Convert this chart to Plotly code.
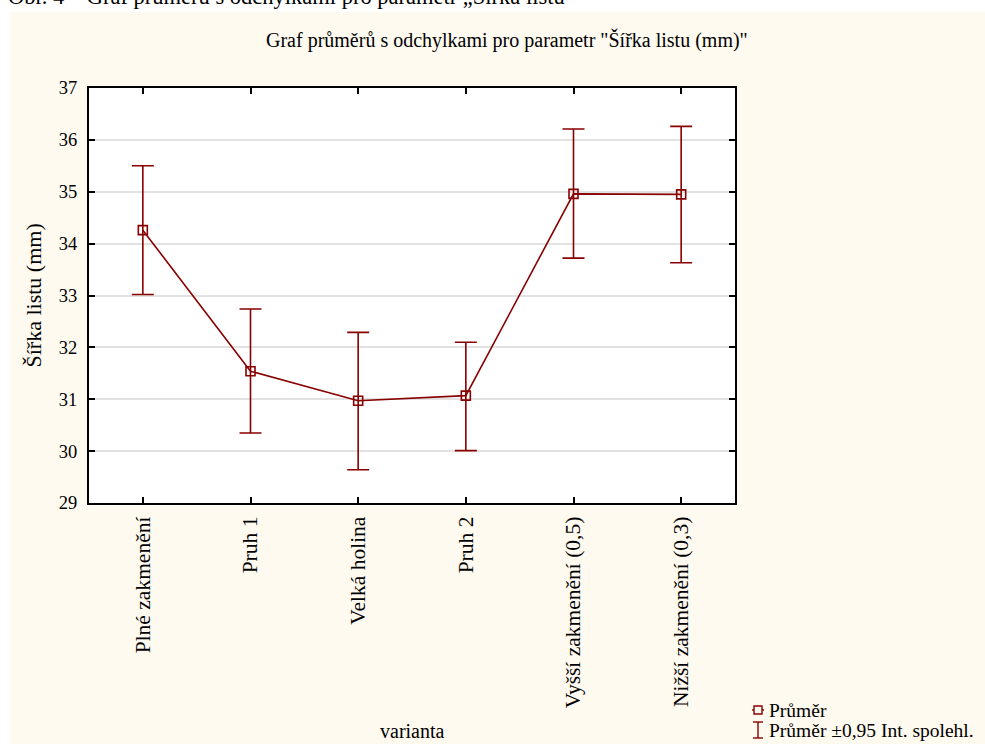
import plotly.graph_objects as go

categories = ["Plné zakmenění", "Pruh 1", "Velká holina", "Pruh 2",
              "Vyšší zakmenění (0,5)", "Nižší zakmenění (0,3)"]
means = [34.26, 31.54, 30.97, 31.07, 34.96, 34.95]
upper = [35.50, 32.74, 32.29, 32.10, 36.21, 36.26]
lower = [33.02, 30.35, 29.64, 30.01, 33.72, 33.63]
y_ticks = [29, 30, 31, 32, 33, 34, 35, 36, 37]
legend_labels = ["Průměr", "Průměr ±0,95 Int. spolehl."]

RED = "#880000"
CREAM = "#FEFAF0"
FONT = "Liberation Serif"

W, H = 985, 744
L, R, T, B = 89, 250, 88, 241
pw, ph = W - L - R, H - T - B

def px(x):
    return (x - L) / pw

def py(y):
    return (H - B - y) / ph

err_plus = [u - m for u, m in zip(upper, means)]
err_minus = [m - l for m, l in zip(means, lower)]

fig = go.Figure()
fig.add_trace(go.Scatter(
    x=categories, y=means, mode="lines+markers", name=legend_labels[0],
    line=dict(color=RED, width=1.6),
    marker=dict(symbol="square-open", size=9, color=RED, line=dict(width=1.6, color=RED)),
    error_y=dict(type="data", array=err_plus, arrayminus=err_minus,
                 color=RED, thickness=1.6, width=11),
    showlegend=False,
))

# legend (drawn manually for compact STATISTICA-like spacing)
lx = 758
ly1, ly2 = 710, 730
legend_shapes = [
    dict(type="line", xref="paper", yref="paper",
         x0=px(lx - 6), x1=px(lx + 6), y0=py(ly1), y1=py(ly1),
         line=dict(color=RED, width=1.4)),
    dict(type="rect", xref="paper", yref="paper",
         x0=px(lx - 4), x1=px(lx + 4), y0=py(ly1 - 4), y1=py(ly1 + 4),
         fillcolor=CREAM, line=dict(color=RED, width=1.4)),
    dict(type="line", xref="paper", yref="paper",
         x0=px(lx), x1=px(lx), y0=py(ly2 - 8), y1=py(ly2 + 8),
         line=dict(color=RED, width=1.4)),
    dict(type="line", xref="paper", yref="paper",
         x0=px(lx - 5), x1=px(lx + 5), y0=py(ly2 - 8), y1=py(ly2 - 8),
         line=dict(color=RED, width=1.4)),
    dict(type="line", xref="paper", yref="paper",
         x0=px(lx - 5), x1=px(lx + 5), y0=py(ly2 + 8), y1=py(ly2 + 8),
         line=dict(color=RED, width=1.4)),
]

fig.update_layout(
    width=W, height=H,
    margin=dict(l=L, r=R, t=T, b=B, pad=0),
    paper_bgcolor=CREAM, plot_bgcolor="white",
    font=dict(family=FONT, size=18, color="black"),
    showlegend=False,
    xaxis=dict(
        type="category", range=[-0.5, 5.5], tickangle=-90, automargin=False,
        showline=True, linecolor="black", linewidth=2, mirror="ticks",
        ticks="inside", ticklen=6, tickwidth=2, tickcolor="black",
        showgrid=False, zeroline=False, ticklabelstandoff=3,
        tickfont=dict(size=21.5, family=FONT),
    ),
    yaxis=dict(
        range=[29, 37], tickvals=y_ticks, automargin=False,
        showline=True, linecolor="black", linewidth=2, mirror="ticks",
        ticks="inside", ticklen=6, tickwidth=2, tickcolor="black",
        showgrid=True, gridcolor="#e2e2e2", gridwidth=2, zeroline=False,
        ticklabelstandoff=6,
        tickfont=dict(size=18.5, family=FONT),
    ),
    shapes=[
        dict(type="rect", xref="paper", yref="paper", layer="below",
             x0=px(-5), x1=px(W + 5), y0=py(12), y1=py(-5),
             fillcolor="white", line=dict(width=0)),
        dict(type="rect", xref="paper", yref="paper", layer="below",
             x0=px(-5), x1=px(10), y0=py(H + 5), y1=py(-5),
             fillcolor="white", line=dict(width=0)),
    ] + legend_shapes,
    annotations=[
        dict(text='Graf průměrů s odchylkami pro parametr "Šířka listu (mm)"',
             xref="paper", yref="paper", x=px(507), y=py(40),
             xanchor="center", yanchor="middle", showarrow=False,
             font=dict(size=20, family=FONT)),
        dict(text="Šířka listu (mm)", textangle=-90,
             xref="paper", yref="paper", x=px(33), y=0.5,
             xanchor="center", yanchor="middle", showarrow=False,
             font=dict(size=22, family=FONT)),
        dict(text="varianta",
             xref="paper", yref="paper", x=px(412), y=py(731),
             xanchor="center", yanchor="middle", showarrow=False,
             font=dict(size=20, family=FONT)),
        dict(text=legend_labels[0],
             xref="paper", yref="paper", x=px(767), y=py(ly1),
             xanchor="left", yanchor="middle", showarrow=False,
             font=dict(size=19.5, family=FONT)),
        dict(text=legend_labels[1],
             xref="paper", yref="paper", x=px(767), y=py(ly2),
             xanchor="left", yanchor="middle", showarrow=False,
             font=dict(size=19.5, family=FONT)),
        dict(text="Obr. 4 – Graf průměru s odchylkami pro parametr „Šířka listu“",
             xref="paper", yref="paper", x=px(6), y=py(11),
             xanchor="left", yanchor="bottom", showarrow=False,
             font=dict(size=22.5, family=FONT)),
    ],
)

fig.write_html("out.html", config={"displayModeBar": False},
               post_script="document.body.style.margin='0';")
